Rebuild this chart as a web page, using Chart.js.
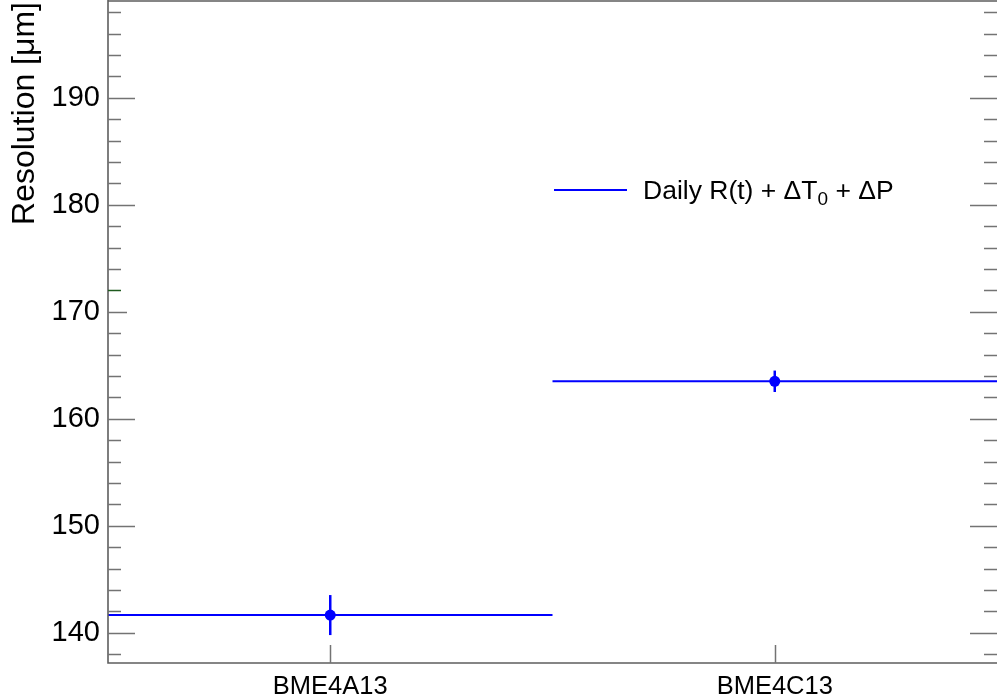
<!DOCTYPE html>
<html>
<head>
<meta charset="utf-8">
<script src="https://cdn.jsdelivr.net/npm/chart.js@4"></script>
<style>
  html, body { margin: 0; padding: 0; background: #fff; overflow: hidden; }
  #wrap { width: 997px; height: 700px; }
</style>
</head>
<body>
<div id="wrap"><canvas id="resPlot" width="997" height="700"></canvas></div>
<script>
// chambers (one bin each) and their resolution
const categories = ["BME4A13", "BME4C13"];
const resolution = [141.65, 163.5];
const resolutionErr = [1.87, 1.0];
const yMajor = [140, 150, 160, 170, 180, 190];
const seriesLabel = "Daily R(t) + \u0394T\u2080 + \u0394P";

const FONT = "'Liberation Sans', Arial, Helvetica, sans-serif";
const BLUE = "#0000ff";

// bin contents drawn as flat segments across each bin, broken between bins
const binLine = [];
categories.forEach((c, i) => {
  if (i > 0) binLine.push({x: i, y: null});
  binLine.push({x: i, y: resolution[i]}, {x: i + 1, y: resolution[i]});
});
const binPoints = categories.map((c, i) => ({x: i + 0.5, y: resolution[i]}));

const rootStyle = {
  id: "rootStyle",
  beforeDatasetsDraw(chart) {
    const {ctx, scales: {x, y}} = chart;
    ctx.save();
    ctx.strokeStyle = BLUE;
    ctx.lineWidth = 2.5;
    categories.forEach((c, i) => {
      const px = x.getPixelForValue(i + 0.5);
      ctx.beginPath();
      ctx.moveTo(px, y.getPixelForValue(resolution[i] - resolutionErr[i]));
      ctx.lineTo(px, y.getPixelForValue(resolution[i] + resolutionErr[i]));
      ctx.stroke();
    });
    ctx.restore();
  },
  afterDraw(chart) {
    const {ctx, chartArea: a, scales: {x, y}} = chart;
    ctx.save();

    // frame
    ctx.strokeStyle = "#5e5e5e";
    ctx.lineWidth = 1.6;
    ctx.beginPath();
    ctx.moveTo(a.left, 0);
    ctx.lineTo(a.left, a.bottom);
    ctx.lineTo(a.right, a.bottom);
    ctx.moveTo(a.left, a.top);
    ctx.lineTo(a.right, a.top);
    ctx.stroke();

    // inward ticks on both sides, minor every 2
    ctx.lineWidth = 1.5;
    for (let v = 138; v <= 198; v += 2) {
      const py = Math.round(y.getPixelForValue(v)) + 0.5;
      const major = v % 10 === 0;
      const len = major ? 27 : 13;
      ctx.strokeStyle = v === 172 ? "#1f5a1f" : "#737373";
      ctx.beginPath();
      ctx.moveTo(a.left, py);
      ctx.lineTo(a.left + (v === 170 ? 19 : len), py);
      ctx.stroke();
      ctx.strokeStyle = "#737373";
      ctx.beginPath();
      ctx.moveTo(a.right, py);
      ctx.lineTo(a.right - len, py);
      ctx.stroke();
    }
    categories.forEach((c, i) => {
      const px = Math.round(x.getPixelForValue(i + 0.5)) + 0.5;
      ctx.beginPath();
      ctx.moveTo(px, a.bottom);
      ctx.lineTo(px, a.bottom - 18);
      ctx.stroke();
    });

    // y title, right-aligned at the top of the axis
    ctx.fillStyle = "#000";
    ctx.font = "32px " + FONT;
    ctx.translate(34, 2);
    ctx.rotate(-Math.PI / 2);
    ctx.textAlign = "right";
    ctx.textBaseline = "alphabetic";
    ctx.fillText("Resolution [\u03bcm]", 0, 0);
    ctx.setTransform(1, 0, 0, 1, 0, 0);

    // legend
    const lx = 554, ly = 190;
    ctx.strokeStyle = BLUE;
    ctx.lineWidth = 2;
    ctx.beginPath();
    ctx.moveTo(lx, ly);
    ctx.lineTo(lx + 73, ly);
    ctx.stroke();
    const parts = [
      ["Daily R(t) + \u0394T", 26.5, 0],
      ["0", 19, 6],
      [" + \u0394P", 26.5, 0]
    ];
    let tx = lx + 89;
    ctx.textAlign = "left";
    parts.forEach(([s, size, dy]) => {
      ctx.font = size + "px " + FONT;
      ctx.fillText(s, tx, ly + 9 + dy);
      tx += ctx.measureText(s).width;
    });
    ctx.restore();
  }
};

new Chart(document.getElementById("resPlot"), {
  type: "line",
  data: {
    datasets: [
      {
        label: seriesLabel,
        data: binLine,
        borderColor: BLUE,
        borderWidth: 2,
        pointRadius: 0,
        spanGaps: false,
        tension: 0
      },
      {
        type: "scatter",
        label: seriesLabel,
        data: binPoints,
        backgroundColor: BLUE,
        borderColor: BLUE,
        pointRadius: 5.5,
        pointBorderWidth: 0
      }
    ]
  },
  options: {
    responsive: false,
    animation: false,
    layout: {autoPadding: false, padding: {top: 1, right: 0, left: 0, bottom: 0}},
    plugins: {legend: {display: false}, tooltip: {enabled: false}},
    scales: {
      x: {
        type: "linear",
        min: 0,
        max: categories.length,
        grid: {display: false, drawTicks: false},
        border: {display: false},
        afterBuildTicks: s => { s.ticks = categories.map((c, i) => ({value: i + 0.5})); },
        afterFit: s => { s.height = 37; s.paddingLeft = 0; s.paddingRight = 0; },
        ticks: {
          autoSkip: false,
          maxRotation: 0,
          padding: 9,
          color: "#000",
          font: {family: FONT, size: 25.5},
          callback: v => categories[Math.round(v - 0.5)]
        }
      },
      y: {
        min: 137.17,
        max: 199.04,
        grid: {display: false, drawTicks: false},
        border: {display: false},
        afterBuildTicks: s => { s.ticks = yMajor.map(v => ({value: v})); },
        afterFit: s => { s.width = 108; s.paddingTop = 0; s.paddingBottom = 0; },
        ticks: {
          autoSkip: false,
          padding: 8,
          color: "#000",
          font: {family: FONT, size: 29},
          callback: v => String(v)
        }
      }
    }
  },
  plugins: [rootStyle]
});
</script>
</body>
</html>
